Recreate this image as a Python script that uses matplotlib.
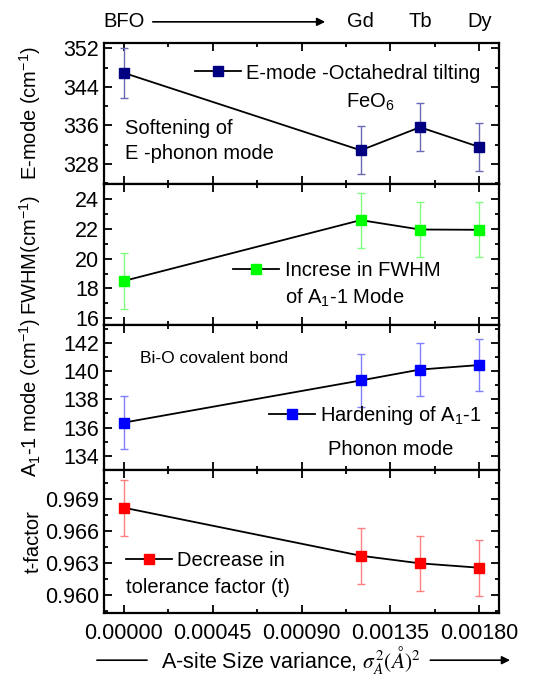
import matplotlib
matplotlib.use('Agg')
import matplotlib.pyplot as plt
import matplotlib.transforms as mtransforms
from matplotlib.ticker import MultipleLocator
import numpy as np

plt.rcParams['font.family'] = ['Liberation Sans', 'DejaVu Sans']
plt.rcParams['mathtext.fontset'] = 'custom'
plt.rcParams['mathtext.rm'] = 'Liberation Sans'
plt.rcParams['mathtext.it'] = 'Liberation Sans:italic'
plt.rcParams['mathtext.bf'] = 'Liberation Sans:bold'

# composition: A-site size variance (Å^2)
variance = [0.0, 0.0012, 0.0015, 0.0018]
samples = ['BFO', 'Gd', 'Tb', 'Dy']

e_mode = [346.9, 330.8, 335.6, 331.5]
e_mode_err = [5.2, 5.0, 5.0, 4.9]

fwhm = [18.5, 22.58, 21.95, 21.93]
fwhm_err = [1.85, 1.85, 1.85, 1.85]

a1_mode = [136.35, 139.33, 140.1, 140.42]
a1_mode_err = [1.85, 1.85, 1.85, 1.85]

t_factor = [0.96816, 0.96367, 0.96296, 0.96255]
t_factor_err = [0.0026, 0.0026, 0.0026, 0.0026]

FS = 14.5
TICK_FS = 15.5
W, H = 550, 677
fig = plt.figure(figsize=(W / 100, H / 100), dpi=100)

left, right = 104, 499
edges = [43, 184, 325, 470, 613]

panels = [
    dict(y=e_mode, err=e_mode_err, color='#000080', ecolor='#6a6ab4',
         ylim=(323.8, 353.1), major=8, minor=4, label='E-mode (cm$^{-1}$)'),
    dict(y=fwhm, err=fwhm_err, color='#00ff00', ecolor='#80ff80',
         ylim=(15.55, 25.0), major=2, minor=1, label='FWHM(cm$^{-1}$)'),
    dict(y=a1_mode, err=a1_mode_err, color='#0000ff', ecolor='#8080ff',
         ylim=(133.0, 143.25), major=2, minor=1, label='A$_1$-1 mode (cm$^{-1}$)'),
    dict(y=t_factor, err=t_factor_err, color='#ff0000', ecolor='#ff8080',
         ylim=(0.95832, 0.97168), major=0.003, minor=0.0015, label='t-factor'),
]

axes = []
for i, p in enumerate(panels):
    top, bot = edges[i], edges[i + 1]
    ax = fig.add_axes([left / W, 1 - bot / H, (right - left) / W, (bot - top) / H])
    ax.errorbar(variance, p['y'], yerr=p['err'], fmt='none', ecolor=p['ecolor'],
                elinewidth=1.0, capsize=3, capthick=1.0, zorder=2)
    line, = ax.plot(variance, p['y'], color='black', lw=1.3, marker='s', ms=7.5,
                    mfc=p['color'], mec=p['color'], zorder=3)
    p['line'] = line
    ax.set_xlim(-0.0001, 0.0019)
    ax.set_ylim(*p['ylim'])
    ax.xaxis.set_major_locator(MultipleLocator(0.00045))
    ax.xaxis.set_minor_locator(MultipleLocator(0.000225))
    ax.yaxis.set_major_locator(MultipleLocator(p['major']))
    ax.yaxis.set_minor_locator(MultipleLocator(p['minor']))
    ax.tick_params(which='both', direction='in', top=True, right=True, width=1.3,
                   labelsize=TICK_FS)
    ax.tick_params(which='major', length=5.5)
    ax.tick_params(which='minor', length=3)
    for s in ax.spines.values():
        s.set_linewidth(1.6)
    ax.set_ylabel(p['label'], fontsize=FS)
    ax.yaxis.set_label_coords(-0.155, 0.5)
    if i < 3:
        ax.tick_params(labelbottom=False)
    axes.append(ax)

ax1, ax2, ax3, ax4 = axes
ax4.xaxis.set_major_formatter(plt.FuncFormatter(lambda v, pos: f'{v:.5f}'))
ax4.tick_params(axis='x', pad=7)
ax4.yaxis.set_major_formatter(plt.FuncFormatter(lambda v, pos: f'{v:.3f}'))

leg_kw = dict(frameon=False, fontsize=FS, handlelength=2.3, handletextpad=0.25,
              borderaxespad=0, borderpad=0, loc='center left')


def note(ax, x, y, s, **kw):
    kw.setdefault('fontsize', FS)
    ax.text(x, y, s, transform=ax.transAxes, va='center', **kw)


# panel 1
ax1.legend([panels[0]['line']], ['E-mode -Octahedral tilting'],
           bbox_to_anchor=(0.23, 0.787), **leg_kw)
note(ax1, 0.673, 0.58, 'FeO$_6$', ha='center')
note(ax1, 0.053, 0.397, 'Softening of')
note(ax1, 0.053, 0.213, 'E -phonon mode')

# panel 2
ax2.legend([panels[1]['line']], ['Increse in FWHM'],
           bbox_to_anchor=(0.327, 0.385), **leg_kw)
note(ax2, 0.458, 0.19, 'of A$_1$-1 Mode')

# panel 3
note(ax3, 0.091, 0.766, 'Bi-O covalent bond', fontsize=12.5)
ax3.legend([panels[2]['line']], ['Hardening of A$_1$-1'],
           bbox_to_anchor=(0.418, 0.375), **leg_kw)
note(ax3, 0.567, 0.138, 'Phonon mode')

# panel 4
ax4.legend([panels[3]['line']], ['Decrease in'],
           bbox_to_anchor=(0.056, 0.37), **leg_kw)
note(ax4, 0.056, 0.175, 'tolerance factor (t)')

# sample names above the top panel
trans = mtransforms.blended_transform_factory(ax1.transData, ax1.transAxes)
for xv, name in zip(variance, samples):
    ax1.text(xv, 1.15, name, transform=trans, ha='center', va='center', fontsize=FS)
ax1.annotate('', xy=(0.00102, 1.15), xytext=(0.000147, 1.15), xycoords=trans,
             textcoords=trans,
             arrowprops=dict(arrowstyle='-|>', color='black', lw=1.2,
                             mutation_scale=12, shrinkA=0, shrinkB=0))

# x axis label with arrow lines
ax4.text(0.473, -0.33, r'A-site Size variance, $\sigma^2_A(\AA)^2$',
         transform=ax4.transAxes, ha='center', va='center', fontsize=15.5,
         math_fontfamily='stix')
ax4.annotate('', xy=(0.109, -0.33), xytext=(-0.018, -0.33), xycoords='axes fraction',
             arrowprops=dict(arrowstyle='-', color='black', lw=1.2,
                             shrinkA=0, shrinkB=0))
ax4.annotate('', xy=(1.028, -0.33), xytext=(0.826, -0.33), xycoords='axes fraction',
             arrowprops=dict(arrowstyle='-|>', color='black', lw=1.2,
                             mutation_scale=12, shrinkA=0, shrinkB=0))

fig.savefig('out.png', dpi=100)
